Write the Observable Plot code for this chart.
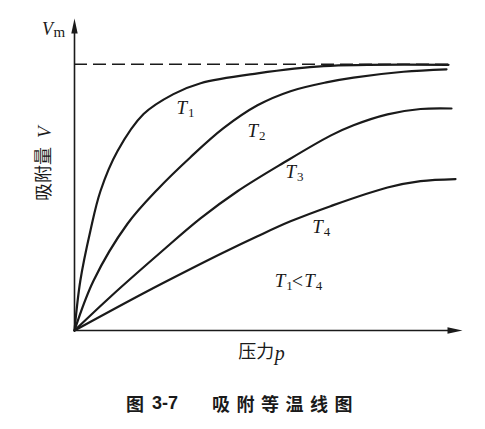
<!DOCTYPE html>
<html><head><meta charset="utf-8">
<script src="https://cdn.jsdelivr.net/npm/d3@7"></script>
<script src="https://cdn.jsdelivr.net/npm/@observablehq/plot@0.6"></script>
<style>
body{margin:0;background:#fff;}
#wrap{position:relative;width:485px;height:429px;overflow:hidden;}
#cap{position:absolute;left:0;top:380px;width:485px;height:49px;font-family:"Noto Sans CJK SC";font-weight:700;font-size:18px;color:#1a1a1a;}
#cap span{position:absolute;top:0;line-height:46px;white-space:nowrap;}
</style></head><body>
<div id="wrap"><div id="chart"></div>
<div id="cap"><span style="left:126px">图</span><span style="left:152px;font-family:'Liberation Sans';">3-7</span><span style="left:212px;letter-spacing:6.5px">吸附等温线图</span></div>
</div>
<script>
// isotherm curves: pressure p (0-100 arbitrary) vs adsorbed amount V (Vm = 1)
const seriesNames = ["T1", "T2", "T3", "T4"];
const pT1 = [0, 1.5, 4.1, 6.7, 11.1, 17.8, 25.5, 32.5, 47.2, 64.2, 96.4];
const vT1 = [0, 0.187, 0.375, 0.524, 0.674, 0.813, 0.888, 0.929, 0.966, 0.993, 0.998];
const pT2 = [0, 4.9, 13.66, 21.39, 29.9, 38.4, 47.16, 55.67, 65.21, 71.91, 84.8, 95.88];
const vT2 = [0, 0.187, 0.401, 0.530, 0.651, 0.760, 0.846, 0.899, 0.933, 0.950, 0.972, 0.981];
const pT3 = [0, 9.28, 22.16, 32.47, 42.01, 53.87, 65.98, 71.91, 80.67, 89.18, 97.16];
const vT3 = [0, 0.127, 0.293, 0.421, 0.523, 0.630, 0.732, 0.771, 0.812, 0.832, 0.834];
const pT4 = [0, 17.78, 29.9, 38.4, 47.16, 55.67, 65.98, 80.67, 89.18, 98.2];
const vT4 = [0, 0.140, 0.231, 0.293, 0.354, 0.410, 0.467, 0.537, 0.561, 0.569];
const vMonolayer = [1];
const dashEndP = [96.4];

// curve labels
const labelMain = ["T", "T", "T", "T"];
const labelSub = ["1", "2", "3", "4"];
const labelP = [26.3, 44.6, 54.4, 61.3];
const labelV = [0.837, 0.749, 0.596, 0.390];

// axis & annotation texts
const yTitle = "吸附量";
const yTitleVar = "V";
const xTitle = "压力";
const xTitleVar = "p";
const vmMain = "V";
const vmSub = "m";
const ineq = ["T", "1", "<", "T", "4"];

const P = [pT1, pT2, pT3, pT4], Vv = [vT1, vT2, vT3, vT4];
const curves = seriesNames.flatMap((s, k) => P[k].map((p, i) => ({s, p, v: Vv[k][i]})));
const labels = labelMain.map((m, i) => ({m, sub: labelSub[i], p: labelP[i], v: labelV[i]}));

const ink = "#1a1a1a";
const serif = "Liberation Serif";
const arrowSym = {draw(ctx) { ctx.moveTo(0, 0); ctx.lineTo(3.2, 15); ctx.lineTo(-3.2, 15); ctx.closePath(); }};

const YMAX = 1.172;
const IP = 51.6, IV = 0.187;
const chart = Plot.plot({
  width: 485, height: 380,
  marginLeft: 74, marginRight: 23, marginTop: 18, marginBottom: 50,
  x: {domain: [0, 100], axis: null},
  y: {domain: [0, YMAX], axis: null},
  style: {background: "#fff"},
  marks: [
    Plot.ruleY(vMonolayer, {x1: 0, x2: dashEndP[0], stroke: ink, strokeWidth: 1.5, strokeDasharray: "13,6"}),
    Plot.ruleX([0], {y1: 0, y2: YMAX - 0.03, stroke: ink, strokeWidth: 1.6}),
    Plot.ruleY([0], {x1: 0, x2: 97, stroke: ink, strokeWidth: 1.6}),
    Plot.dot([0], {x: 0, y: YMAX, symbol: arrowSym, fill: ink, stroke: "none"}),
    Plot.dot([0], {x: 100, y: 0, symbol: arrowSym, fill: ink, stroke: "none", rotate: 90}),
    Plot.line(curves, {x: "p", y: "v", z: "s", curve: "catmull-rom", stroke: ink, strokeWidth: 2.2}),
    Plot.text(labels, {x: "p", y: "v", text: "m", textAnchor: "start", fontFamily: serif, fontStyle: "italic", fontSize: 19, fill: ink}),
    Plot.text(labels, {x: "p", y: "v", text: "sub", textAnchor: "start", dx: 11.5, dy: 5, fontFamily: serif, fontSize: 13, fill: ink}),
    // T1 < T4
    Plot.text([ineq[0]], {x: IP, y: IV, text: d => d, textAnchor: "start", fontFamily: serif, fontStyle: "italic", fontSize: 19, fill: ink}),
    Plot.text([ineq[1]], {x: IP, y: IV, text: d => d, textAnchor: "start", dx: 11.5, dy: 5, fontFamily: serif, fontSize: 13, fill: ink}),
    Plot.text([ineq[2]], {x: IP, y: IV, text: d => d, textAnchor: "start", dx: 17, dy: 1, fontFamily: serif, fontSize: 20, fill: ink}),
    Plot.text([ineq[3]], {x: IP, y: IV, text: d => d, textAnchor: "start", dx: 29.5, fontFamily: serif, fontStyle: "italic", fontSize: 19, fill: ink}),
    Plot.text([ineq[4]], {x: IP, y: IV, text: d => d, textAnchor: "start", dx: 41, dy: 5, fontFamily: serif, fontSize: 13, fill: ink}),
    // Vm
    Plot.text([vmMain], {x: -8.4, y: 1.130, text: d => d, textAnchor: "start", fontFamily: serif, fontStyle: "italic", fontSize: 18, fill: ink}),
    Plot.text([vmSub], {x: -8.4, y: 1.130, text: d => d, textAnchor: "start", dx: 11.5, dy: 3, fontFamily: serif, fontSize: 15, fill: ink}),
    // y title
    Plot.text([yTitle], {x: -7.7, y: 0.588, text: d => d, rotate: -90, fontFamily: "Noto Sans CJK SC", fontSize: 18, fill: ink}),
    Plot.text([yTitleVar], {x: -7.7, y: 0.745, text: d => d, rotate: -90, fontFamily: serif, fontStyle: "italic", fontSize: 19, fill: ink}),
    // x title
    Plot.text([xTitle], {x: 42.2, y: -0.082, text: d => d, textAnchor: "start", fontFamily: "Noto Sans CJK SC", fontSize: 18, fill: ink}),
    Plot.text([xTitleVar], {x: 51.6, y: -0.082, text: d => d, textAnchor: "start", dy: 1, fontFamily: serif, fontStyle: "italic", fontSize: 20, fill: ink})
  ]
});
document.getElementById("chart").appendChild(chart);
</script>
</body></html>
